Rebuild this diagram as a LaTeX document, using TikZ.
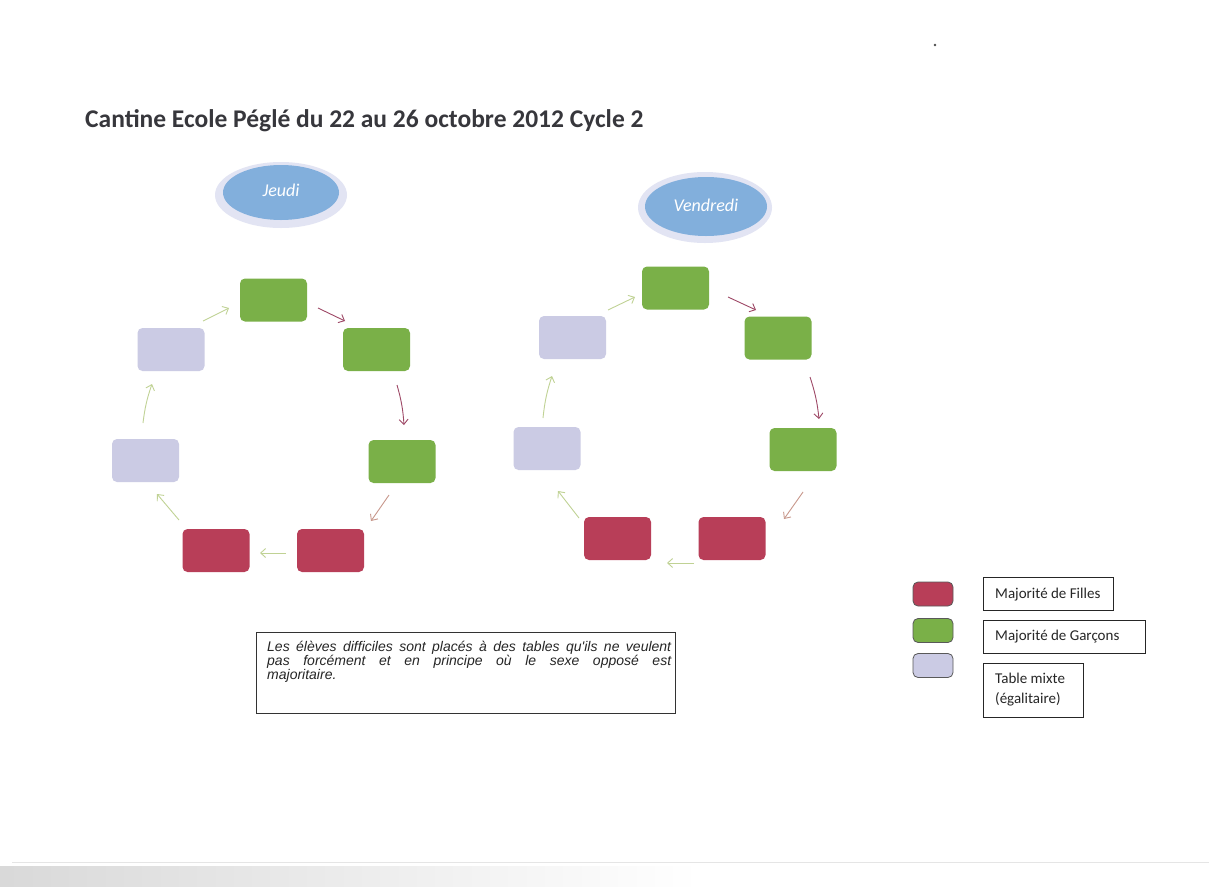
\documentclass[tikz,border=0pt]{standalone}
\usepackage{fontspec}
\setmainfont{Carlito}
\newfontfamily\arialf{Liberation Sans}
\usetikzlibrary{arrows.meta,shapes.geometric}
\definecolor{tgreen}{RGB}{122,176,72}
\definecolor{tred}{RGB}{184,62,88}
\definecolor{tlav}{RGB}{203,203,228}
\definecolor{eblue}{RGB}{130,175,220}
\definecolor{ering}{RGB}{226,228,243}
\definecolor{argreen}{RGB}{192,210,148}
\definecolor{arred}{RGB}{158,72,102}
\definecolor{arbrown}{RGB}{200,152,140}
\definecolor{titlegray}{RGB}{55,55,60}
\begin{document}
\begin{tikzpicture}[x=1pt,y=-1pt,
  tbl/.style={rounded corners=5pt, minimum width=67pt, minimum height=43pt, inner sep=0pt, draw=none},
  gtbl/.style={tbl, fill=tgreen},
  rtbl/.style={tbl, fill=tred},
  ltbl/.style={tbl, fill=tlav},
  ringell/.style={ellipse, fill=ering, inner sep=0pt},
  dayell/.style={ellipse, fill=eblue, inner sep=0pt, text=white, font=\itshape\fontsize{18}{20}\selectfont},
  arr/.style={line width=0.9pt, -{Straight Barb[length=5pt,width=9pt]}},
  swatch/.style={rounded corners=5pt, minimum width=40pt, minimum height=24pt, inner sep=0pt, draw=black!65, line width=0.8pt},
  lbox/.style={draw=black!85, line width=0.8pt, inner sep=0pt, anchor=north west},
  ltext/.style={anchor=base west, inner sep=0pt, font=\fontsize{15}{18}\selectfont, text=black!85}
]
\useasboundingbox (0,0) rectangle (1209,886);
\fill[white] (0,0) rectangle (1209,886);
% scan artefacts
\shade[left color=black!15, right color=white] (0,866) rectangle (700,886);
\draw[black!10, line width=1pt] (12,862) -- (1209,862);
\fill[black!70] (935,45) circle (1.3pt);

% title
\node[anchor=base west, inner sep=0pt, text=titlegray, font=\bfseries\fontsize{25.5}{30}\selectfont] (title) at (85,127) {Cantine Ecole Péglé du 22 au 26 octobre 2012 Cycle 2};

% day labels
\node[ringell, minimum width=132pt, minimum height=66pt] (jeudiring) at (281,195) {};
\node[dayell, minimum width=116pt, minimum height=55pt] (jeudi) at (281,192.5) {\raisebox{4pt}{Jeudi}};
\node[ringell, minimum width=134pt, minimum height=71pt] (vendrediring) at (705,207.5) {};
\node[dayell, minimum width=122pt, minimum height=59pt] (vendredi) at (706,206.5) {\raisebox{3pt}{Vendredi}};

% Jeudi cycle
\node[gtbl] (jA) at (273.5,300) {};
\node[gtbl] (jB) at (376.5,349.5) {};
\node[gtbl] (jC) at (402,461.5) {};
\node[rtbl] (jD) at (330.5,550.5) {};
\node[rtbl] (jE) at (216,550.5) {};
\node[ltbl] (jF) at (145.5,460.5) {};
\node[ltbl] (jG) at (171,349.5) {};

\coordinate (jGA1) at (203,321); \coordinate (jGA2) at (229,308);
\coordinate (jAB1) at (318,308); \coordinate (jAB2) at (345,321);
\coordinate (jBC1) at (397,385); \coordinate (jBC2) at (404,425);
\coordinate (jCD1) at (389,495); \coordinate (jCD2) at (371,521);
\coordinate (jDE1) at (286,553); \coordinate (jDE2) at (260,553);
\coordinate (jEF1) at (179,520); \coordinate (jEF2) at (157,494);
\coordinate (jFG1) at (143,423); \coordinate (jFG2) at (152,384);
\draw[arr, argreen] (jGA1) -- (jGA2);
\draw[arr, arred] (jAB1) -- (jAB2);
\draw[arr, arred] (jBC1) to[bend left=6] (jBC2);
\draw[arr, arbrown] (jCD1) -- (jCD2);
\draw[arr, argreen] (jDE1) -- (jDE2);
\draw[arr, argreen] (jEF1) -- (jEF2);
\draw[arr, argreen] (jFG1) to[bend left=6] (jFG2);

% Vendredi cycle
\node[gtbl] (vA) at (675.5,288) {};
\node[gtbl] (vB) at (778,338) {};
\node[gtbl] (vC) at (803,449.5) {};
\node[rtbl] (vD) at (732,538.5) {};
\node[rtbl] (vE) at (617.5,538.5) {};
\node[ltbl] (vF) at (547,448.5) {};
\node[ltbl] (vG) at (572.5,337.5) {};

\coordinate (vGA1) at (608,310); \coordinate (vGA2) at (635,297);
\coordinate (vAB1) at (728,297); \coordinate (vAB2) at (756,310);
\coordinate (vBC1) at (810,377); \coordinate (vBC2) at (819,419);
\coordinate (vCD1) at (803,492); \coordinate (vCD2) at (784,519);
\coordinate (vDE1) at (694,563); \coordinate (vDE2) at (667,563);
\coordinate (vEF1) at (579,518); \coordinate (vEF2) at (558,491);
\coordinate (vFG1) at (543,418); \coordinate (vFG2) at (552,376);
\draw[arr, argreen] (vGA1) -- (vGA2);
\draw[arr, arred] (vAB1) -- (vAB2);
\draw[arr, arred] (vBC1) to[bend left=6] (vBC2);
\draw[arr, arbrown] (vCD1) -- (vCD2);
\draw[arr, argreen] (vDE1) -- (vDE2);
\draw[arr, argreen] (vEF1) -- (vEF2);
\draw[arr, argreen] (vFG1) to[bend left=6] (vFG2);

% note
\node[draw=black!80, line width=0.8pt, anchor=north west, inner sep=0pt, minimum width=419pt, minimum height=81pt] (notebox) at (256,632) {};
\node[anchor=base west, inner sep=0pt, text width=404pt, align=justify, font=\arialf\itshape\fontsize{14}{14.2}\selectfont, text=black!85] (note) at (267,651)
 {Les élèves difficiles sont placés à des tables qu'ils ne veulent\linebreak pas forcément et en principe où le sexe opposé est\linebreak majoritaire.};

% legend
\node[swatch, fill=tred] (swR) at (933,594) {};
\node[swatch, fill=tgreen] (swG) at (933,630.5) {};
\node[swatch, fill=tlav] (swL) at (933,665.5) {};
\node[lbox, minimum width=130pt, minimum height=33pt] (bR) at (983,577) {};
\node[lbox, minimum width=162pt, minimum height=33pt] (bG) at (983,620) {};
\node[lbox, minimum width=100pt, minimum height=54pt] (bL) at (983,663) {};
\node[ltext] (tR) at (995,598) {Majorité de Filles};
\node[ltext] (tG) at (995,640) {Majorité de Garçons};
\node[ltext] (tL1) at (995,683) {Table mixte};
\node[ltext] (tL2) at (995,703) {(égalitaire)};
\end{tikzpicture}
\end{document}
